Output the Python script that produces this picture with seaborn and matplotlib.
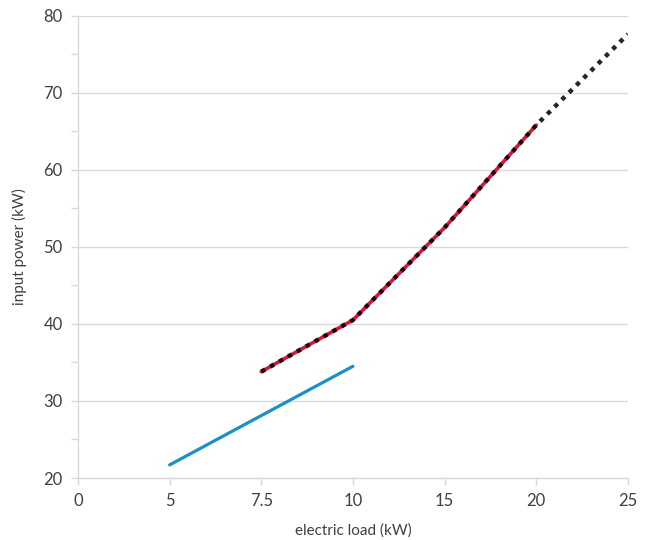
import matplotlib
matplotlib.use("Agg")
import matplotlib.pyplot as plt
import seaborn as sns
import pandas as pd
from matplotlib.ticker import MultipleLocator

# categories on the x axis (category axis, evenly spaced)
categories = ["0", "5", "7.5", "10", "15", "20", "25"]

# blue series
blue_x = ["5", "7.5", "10"]
blue_y = [21.7, 28.1, 34.5]

# red series
red_x = ["7.5", "10", "15", "20"]
red_y = [33.8, 40.5, 52.5, 65.8]

# black dotted series
black_x = ["7.5", "10", "15", "20", "25"]
black_y = [33.8, 40.5, 52.5, 65.8, 77.6]

def frame(xs, ys):
    return pd.DataFrame({"pos": [categories.index(x) for x in xs], "val": ys})

sns.set_theme(style="white")
plt.rcParams["font.family"] = ["Lato", "DejaVu Sans"]

fig = plt.figure(figsize=(6.46, 5.40), dpi=100)
ax = fig.add_axes([0.1207, 0.1148, 0.8513, 0.8562])

txt = "#404040"
grid = "#d9d9d9"

sns.lineplot(data=frame(blue_x, blue_y), x="pos", y="val", ax=ax,
             color="#1b8fc6", linewidth=2.3, sort=False)
sns.lineplot(data=frame(red_x, red_y), x="pos", y="val", ax=ax,
             color="#d6163a", linewidth=2.6, sort=False)
sns.lineplot(data=frame(black_x, black_y), x="pos", y="val", ax=ax,
             color="#000000", linewidth=3.2, sort=False, alpha=0.85,
             dashes=False)
ax.lines[-1].set_dashes([1.0, 1.3])
ax.lines[-1].set_dash_capstyle("butt")

ax.set_xlim(0, len(categories) - 1)
ax.set_ylim(20, 80)
ax.set_xticks(range(len(categories)))
ax.set_xticklabels(categories)
ax.yaxis.set_major_locator(MultipleLocator(10))
ax.yaxis.set_minor_locator(MultipleLocator(5))

ax.grid(axis="y", which="major", color=grid, linewidth=1.0)
ax.grid(axis="x", visible=False)
ax.set_axisbelow(True)

for side in ["top", "right"]:
    ax.spines[side].set_visible(False)
for side in ["left", "bottom"]:
    ax.spines[side].set_visible(True)
    ax.spines[side].set_color(grid)
    ax.spines[side].set_linewidth(1.0)

ax.tick_params(axis="both", which="major", length=5, width=1.0, color=grid,
               labelsize=12, labelcolor=txt, pad=6)
ax.tick_params(axis="y", which="minor", length=5, width=1.0, color=grid, left=True)
ax.tick_params(axis="x", which="major", bottom=True, direction="out")
ax.tick_params(axis="y", which="major", left=True, direction="out")

ax.set_xlabel("electric load (kW)", fontsize=11, color=txt, labelpad=10)
ax.set_ylabel("input power (kW)", fontsize=11, color=txt, labelpad=12)

fig.savefig("out.png", dpi=100)
